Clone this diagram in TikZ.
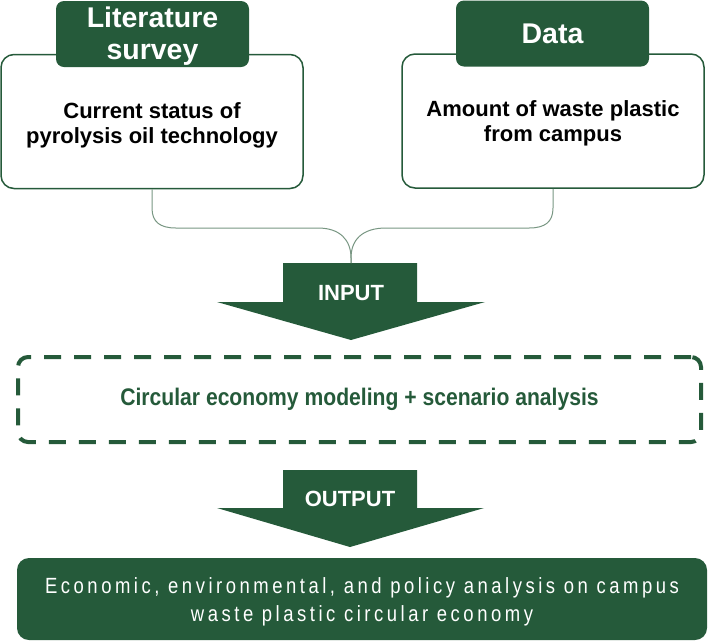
\documentclass[tikz,border=0pt]{standalone}
\usepackage{fontspec}
\setmainfont{Liberation Sans}
\newfontfamily\narrowfont{Liberation Sans}[FakeStretch=0.88]
\newfontfamily\thinfont{Liberation Sans}[FakeStretch=0.84,LetterSpace=16]
\definecolor{dkgreen}{RGB}{37,90,58}
\definecolor{bracegreen}{RGB}{120,150,130}
\tikzset{
  wbox/.style={draw=dkgreen, line width=1.5pt, rounded corners=13pt, fill=white,
    minimum width=302pt, minimum height=134pt, inner sep=0pt},
  wtext/.style={align=center, inner sep=0pt, font=\bfseries\fontsize{22}{25}\selectfont},
  hbox/.style={fill=dkgreen, rounded corners=8pt, minimum width=193pt, minimum height=66pt,
    inner sep=0pt, text=white, align=center, font=\bfseries\fontsize{28.5}{32}\selectfont},
  htext/.style={text=white, align=center, inner sep=0pt, font=\bfseries\fontsize{28.5}{32}\selectfont},
  arrowlabel/.style={text=white, inner sep=0pt, font=\bfseries\fontsize{22}{22}\selectfont},
  dbox/.style={draw=dkgreen, line width=4pt, dash pattern=on 17pt off 13pt, rounded corners=10pt,
    minimum width=683pt, minimum height=85pt, inner sep=0pt, text=dkgreen,
    font=\narrowfont\bfseries\fontsize{24}{24}\selectfont},
  gbox/.style={fill=dkgreen, rounded corners=12pt, minimum width=690pt, minimum height=82pt,
    inner sep=0pt},
  gtext/.style={text=white, align=center, inner sep=0pt, font=\thinfont\fontsize{22}{28}\selectfont},
  brace/.style={draw=bracegreen, line width=1pt},
  bigarrow/.style={fill=dkgreen}
}
\begin{document}
\begin{tikzpicture}[x=1pt,y=-1pt]
\useasboundingbox (0,0) rectangle (708,641);

% top boxes
\node[wbox] (lbox) at (152,121.5) {};
\node[wtext] (ltext) at (152,125) {Current status of\\pyrolysis oil technology};
\node[hbox] (lhead) at (152.5,34) {};
\node[htext] (lheadtext) at (152.5,36) {Literature\\survey};
\node[wbox] (rbox) at (553,121) {};
\node[wtext] (rtext) at (553,123) {Amount of waste plastic\\from campus};
\node[hbox] (rhead) at (552.5,33.5) {Data};

% input arrow
\fill[bigarrow] (283,263) -- (417,263) -- (417,302) -- (485,302) -- (351,340) -- (217,302) -- (283,302) -- cycle;
\node[arrowlabel] (inlabel) at (351,293) {INPUT};
\coordinate (intop) at (351,263);

% brace connectors
\draw[brace] (lbox.south) -- (152,208) .. controls (152,222) and (160,228) .. (176,228)
  -- (318,228) .. controls (340,228) and (351,240) .. (351,258) -- (intop);
\draw[brace] (rbox.south) -- (553,208) .. controls (553,222) and (545,228) .. (529,228)
  -- (386,228) .. controls (362,228) and (351,240) .. (351,258) -- (intop);

% modeling box
\node[dbox] (model) at (359.5,399.5) {Circular economy modeling + scenario analysis};

% output arrow
\fill[bigarrow] (283,470) -- (417,470) -- (417,508) -- (484,508) -- (350,547) -- (217,508) -- (283,508) -- cycle;
\node[arrowlabel] (outlabel) at (350,499) {OUTPUT};

% result box
\node[gbox] (result) at (362,599) {};
\node[gtext] (resulttext) at (362,602) {Economic, environmental, and policy analysis on campus\\waste plastic circular economy};
\end{tikzpicture}
\end{document}
